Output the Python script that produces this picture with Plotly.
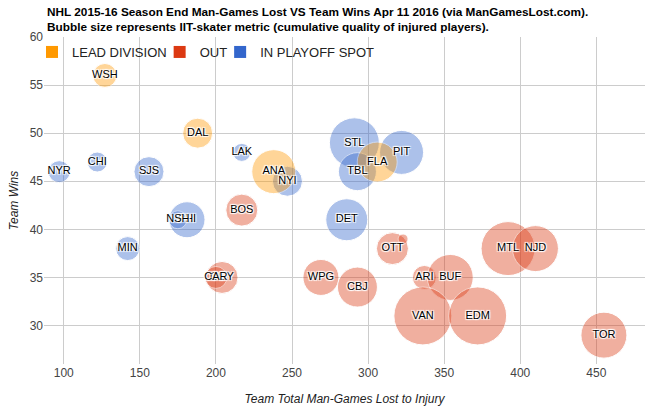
import plotly.graph_objects as go

# ---- data ----
teams = ["WSH", "DAL", "ANA", "FLA",
         "NYR", "CHI", "SJS", "LAK", "STL", "PIT", "TBL", "NYI", "DET", "PHI", "NSH", "MIN",
         "BOS", "CGY", "CAR", "OTT", "COL", "WPG", "CBJ", "ARI", "BUF", "MTL", "NJD", "VAN", "EDM", "TOR"]
status = ["LEAD DIVISION"] * 4 + ["IN PLAYOFF SPOT"] * 12 + ["OUT"] * 14
man_games_lost = [127, 188, 238, 306,
                  97, 122, 156, 217, 291, 322, 293, 247, 286, 181, 175, 142,
                  217, 204, 200, 316, 323, 269, 293, 337, 354, 392, 410, 336, 372, 455]
wins = [56, 50, 46, 47,
        46, 47, 46, 48, 49, 48, 46, 45, 41, 41, 41, 38,
        42, 35, 35, 38, 39, 35, 34, 35, 35, 38, 38, 31, 31, 29]
iit_skater = [12, 15, 22, 20,
              11, 10, 15, 9, 25, 22, 19, 15, 21, 18, 9, 12,
              16, 16, 11, 16, 5, 18, 20, 12, 23, 27, 23, 29, 29, 23]
labels_shown = [t if t != "COL" else "" for t in teams]

categories = ["LEAD DIVISION", "OUT", "IN PLAYOFF SPOT"]
colors = {"LEAD DIVISION": "#FF9900", "OUT": "#DC3912", "IN PLAYOFF SPOT": "#3366CC"}

x_ticks = [100, 150, 200, 250, 300, 350, 400, 450]
y_ticks = [30, 35, 40, 45, 50, 55, 60]

title_lines = ["NHL 2015-16 Season End Man-Games Lost VS Team Wins Apr 11 2016 (via ManGamesLost.com).",
               "Bubble size represents IIT-skater metric (cumulative quality of injured players)."]

FONT = "Liberation Sans, Arial, sans-serif"

fig = go.Figure()

# bubbles
for cat in ["IN PLAYOFF SPOT", "OUT", "LEAD DIVISION"]:
    idx = [i for i, s in enumerate(status) if s == cat]
    fig.add_trace(go.Scatter(
        x=[man_games_lost[i] for i in idx],
        y=[wins[i] for i in idx],
        mode="markers",
        marker=dict(size=[iit_skater[i] for i in idx], sizemode="diameter", sizeref=0.5,
                    color=colors[cat], opacity=0.4,
                    line=dict(color="white", width=1)),
        text=[teams[i] for i in idx],
        showlegend=False,
        hoverinfo="x+y+text",
    ))

# labels on top
fig.add_trace(go.Scatter(
    x=man_games_lost, y=wins, mode="text", text=labels_shown,
    textposition="middle center",
    textfont=dict(family=FONT, size=11, color="black",
                  shadow="1px 1px 1px white, -1px -1px 1px white, 1px -1px 1px white, -1px 1px 1px white"),
    showlegend=False, hoverinfo="skip",
))

# legend entries
for cat in categories:
    fig.add_trace(go.Scatter(
        x=[None], y=[None], mode="markers", name=cat,
        marker=dict(symbol="square", size=12, color=colors[cat]),
    ))

for k, line in enumerate(title_lines):
    fig.add_annotation(text="<b>" + line + "</b>", xref="paper", yref="paper",
                       x=0, xshift=1, y=1, yshift=37 - (12 + 15 * k),
                       xanchor="left", yanchor="middle", showarrow=False,
                       font=dict(family=FONT, size=11.8, color="black"))

fig.update_layout(
    width=660, height=408,
    margin=dict(l=44, r=15, t=37, b=44),
    paper_bgcolor="white", plot_bgcolor="white",
    font=dict(family=FONT, size=12, color="#222222"),
    legend=dict(orientation="h", x=0, xanchor="left", y=1.0, yanchor="top",
                indentation=-12,
                bgcolor="rgba(0,0,0,0)", font=dict(size=13, color="#222222"),
                itemwidth=30, traceorder="normal"),
    xaxis=dict(range=[87, 482], tickvals=x_ticks, showgrid=True, gridcolor="#cccccc",
               zeroline=False, showline=False, tickfont=dict(color="#444444", size=12),
               automargin=False,
               title=dict(text="<i>Team Total Man-Games Lost to Injury</i>",
                          font=dict(size=12, color="#222222"))),
    yaxis=dict(range=[26, 60], tickvals=y_ticks, showgrid=True, gridcolor="#cccccc",
               zeroline=False, showline=False, tickfont=dict(color="#444444", size=12),
               automargin=False,
               ticks="", title=dict(text="<i>Team Wins</i>", standoff=8,
                                    font=dict(size=12, color="#222222"))),
)

fig.write_html("out.html", config={"displayModeBar": False},
               post_script="document.body.style.margin='0';")
